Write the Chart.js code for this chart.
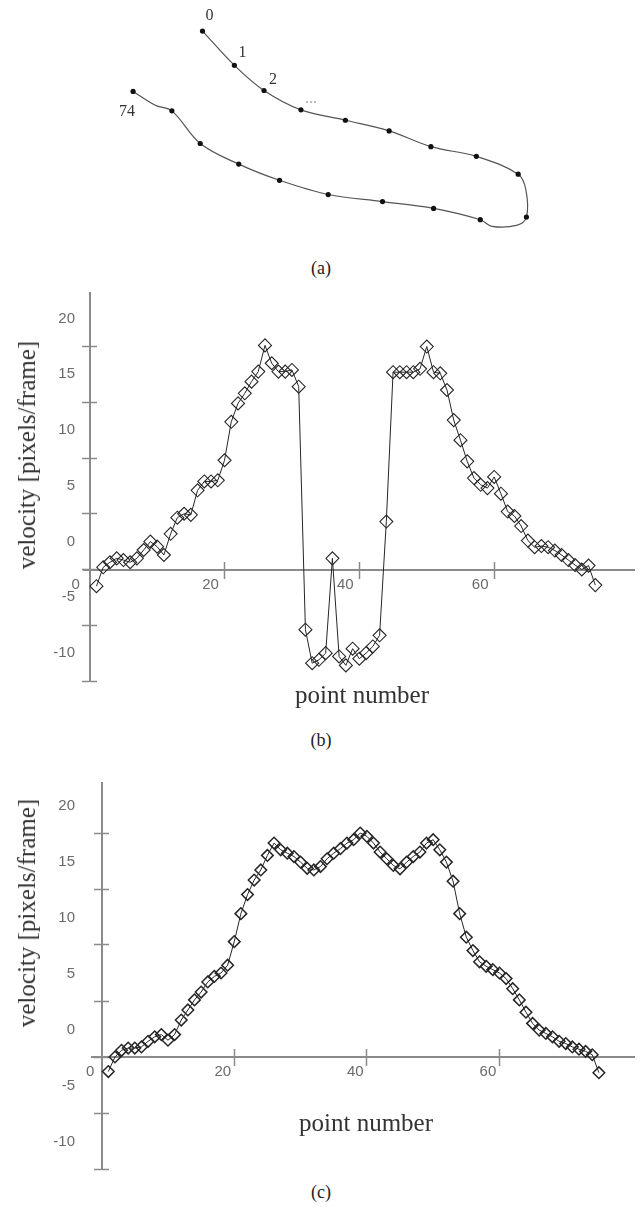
<!DOCTYPE html>
<html>
<head>
<meta charset="utf-8">
<script src="https://cdn.jsdelivr.net/npm/chart.js@4.4.1/dist/chart.umd.min.js"></script>
<style>
body{margin:0;background:#fff;}
#page{position:relative;width:642px;height:1207px;overflow:hidden;background:#fff;font-family:"Liberation Serif","Times New Roman",serif;color:#222;}
canvas{position:absolute;left:0;}
.cap{position:absolute;left:0;width:642px;text-align:center;font-size:18px;line-height:20px;}
.xtitle{position:absolute;font-size:25px;line-height:26px;white-space:nowrap;transform:translate(-50%,-50%);color:#333;}
.ytitle{position:absolute;font-size:25px;line-height:26px;white-space:nowrap;transform:translate(-50%,-50%) rotate(-90deg);color:#333;}
</style>
</head>
<body>
<div id="page">
  <canvas id="contour" width="642" height="255" style="top:0"></canvas>
  <div class="cap" style="top:258px">(a)</div>

  <canvas id="velRaw" width="642" height="410" style="top:280px"></canvas>
  <div class="ytitle" style="left:27px;top:455px">velocity [pixels/frame]</div>
  <div class="xtitle" style="left:362px;top:695px">point number</div>
  <div class="cap" style="top:730px">(b)</div>

  <canvas id="velSmooth" width="642" height="420" style="top:760px"></canvas>
  <div class="ytitle" style="left:27px;top:913px">velocity [pixels/frame]</div>
  <div class="xtitle" style="left:366px;top:1123px">point number</div>
  <div class="cap" style="top:1182px">(c)</div>
</div>

<script>
/* =========================
   DATA
========================= */

// (a) tracked contour, points 0 .. 74 (only every few points are marked)
var contourX = [201, 233.3, 263.3, 300.7, 345.7, 390, 432.3, 478.3, 520.7, 528.5, 529, 519, 494, 482.3, 435, 383.3, 328.3, 279, 237.7, 198.7, 170, 153, 130.7];
var contourY = [28, 63.3, 89.3, 109.3, 120, 131, 147.3, 157.3, 175.7, 192, 220, 228.5, 229.5, 222.7, 211, 204, 196.7, 182, 165.3, 144, 110.3, 104.5, 90.3];
var contourMarked = [1, 1, 1, 1, 1, 1, 1, 1, 1, 0, 1, 0, 0, 1, 1, 1, 1, 1, 1, 1, 1, 0, 1];
var contourLabelText = ["0", "1", "2", "...", "74"];
var contourLabelNode = [0, 1, 2, 3, 22];

// (b) velocity along the contour, raw
var velocityRaw = [
  -1.5, 0.2, 0.65, 1.0, 0.85, 0.65, 1.0, 1.75, 2.5, 2.05,
  1.3, 3.2, 4.65, 5.0, 4.9, 7.1, 7.9, 7.9, 8.0, 9.8,
  13.25, 14.9, 15.8, 16.85, 17.75, 20.1, 18.5, 17.75, 17.75, 17.9,
  16.4, -5.4, -8.4, -8.1, -7.5, 1.0, -7.8, -8.6, -7.1, -8.0,
  -7.5, -6.9, -5.9, 4.3, 17.7, 17.7, 17.7, 17.7, 18.0, 20.0,
  17.7, 17.6, 16.1, 13.4, 11.6, 9.7, 8.2, 7.6, 7.3, 8.3,
  6.8, 5.2, 4.8, 3.9, 2.6, 2.0, 2.1, 2.0, 1.7, 1.3,
  0.85, 0.4, 0.0, 0.35, -1.4
];

// (c) velocity along the contour, corrected
var velocitySmooth = [
  -1.3, 0.0, 0.6, 0.8, 0.8, 0.9, 1.4, 1.8, 2.0, 1.5,
  2.0, 3.3, 4.2, 5.1, 5.8, 6.7, 7.2, 7.5, 8.2, 10.3,
  12.8, 14.5, 15.8, 16.7, 18.0, 19.1, 18.5, 18.2, 17.9, 17.4,
  16.85, 16.7, 17.0, 17.7, 18.2, 18.6, 19.1, 19.4, 20.0, 19.7,
  19.1, 18.3, 17.7, 17.1, 16.8, 17.4, 17.9, 18.3, 19.1, 19.4,
  18.5, 17.4, 15.7, 12.8, 10.7, 9.5, 8.5, 8.1, 7.8, 7.5,
  7.0, 6.1, 5.1, 4.0, 3.0, 2.4, 2.1, 1.8, 1.4, 1.2,
  0.9, 0.7, 0.5, 0.2, -1.4
];

var xTicks = [0, 20, 40, 60];
var yTicks = [-10, -5, 0, 5, 10, 15, 20];

/* =========================
   STYLE
========================= */
var axisColor = "#8a8a8a";
var labelColor = "#6a6a6a";
var markColor = "#262626";
var tickFont = {family: "'Liberation Sans', Arial, sans-serif", size: 15};

function toPoints(values){
  var pts = [];
  for(var i=0;i<values.length;i++){
    pts.push({x: i + 1, y: values[i]});   // point number starts at 1
  }
  return pts;
}

function setTicks(list){
  return function(scale){
    scale.ticks = list.map(function(v){ return {value: v}; });
  };
}

function noPad(scale){
  scale.paddingLeft = 0; scale.paddingRight = 0;
  scale.paddingTop = 0; scale.paddingBottom = 0;
}

/* =========================
   (a) CONTOUR
========================= */
var labelPlugin = {
  id: "contourLabels",
  afterDatasetsDraw: function(chart, args, opts){
    var ctx = chart.ctx, xs = chart.scales.x, ys = chart.scales.y;
    ctx.save();
    ctx.font = "16px 'Liberation Serif', serif";
    ctx.textAlign = "center";
    ctx.textBaseline = "middle";
    for(var i=0;i<contourLabelText.length;i++){
      var n = contourLabelNode[i];
      ctx.fillStyle = opts.colors[i];
      ctx.fillText(contourLabelText[i],
        xs.getPixelForValue(contourX[n]) + opts.dx[i],
        ys.getPixelForValue(contourY[n]) + opts.dy[i]);
    }
    ctx.restore();
  }
};

new Chart(document.getElementById("contour"), {
  type: "scatter",
  data: {
    datasets: [{
      data: contourX.map(function(x, i){ return {x: x, y: contourY[i]}; }),
      showLine: true,
      tension: 0.35,
      borderColor: "#555",
      borderWidth: 1.2,
      pointRadius: function(c){ return contourMarked[c.dataIndex] ? 2.6 : 0; },
      pointBackgroundColor: "#111",
      pointBorderColor: "#111",
      pointBorderWidth: 0
    }]
  },
  options: {
    responsive: false,
    animation: false,
    layout: {padding: 0},
    plugins: {
      legend: {display: false},
      tooltip: {enabled: false},
      contourLabels: {
        dx: [7, 8, 9, 10, -6],
        dy: [-15, -13, -11, -11, 20],
        colors: ["#333", "#333", "#333", "#aaa", "#333"]
      }
    },
    scales: {
      x: {type: "linear", display: false, min: 0, max: 642},
      y: {type: "linear", display: false, min: 0, max: 255, reverse: true}
    }
  },
  plugins: [labelPlugin]
});

/* =========================
   (b) and (c) VELOCITY
========================= */
function velocityChart(id, values, g){

var tickMark = function(len, isX){
  return {
    drawOnChartArea: false,
    drawTicks: true,
    tickLength: len,
    tickWidth: 1.5,
    tickColor: function(c){
      if(isX && c.tick && c.tick.value === 0) return "rgba(0,0,0,0)";
      return axisColor;
    }
  };
};

return new Chart(document.getElementById(id), {
  type: "scatter",
  data: {
    datasets: [{
      data: toPoints(values),
      xAxisID: "x",
      yAxisID: "y",
      showLine: true,
      tension: 0,
      borderColor: markColor,
      borderWidth: 1,
      pointStyle: "rectRot",
      pointRadius: g.markSize,
      pointBorderWidth: g.markLine,
      pointBorderColor: markColor,
      pointBackgroundColor: "rgba(0,0,0,0)"
    }]
  },
  options: {
    responsive: false,
    animation: false,
    layout: {padding: {left: 0, right: 0, top: g.padTop, bottom: g.padBottom}},
    plugins: {legend: {display: false}, tooltip: {enabled: false}},
    scales: {
      x: {
        type: "linear", position: {y: 0}, min: g.xMin, max: g.xMax,
        afterBuildTicks: setTicks(xTicks), afterFit: noPad,
        grid: tickMark(8, true),
        border: {color: axisColor, width: 2},
        ticks: {padding: -2, labelOffset: g.xLabelOffset, font: tickFont, color: labelColor, maxRotation: 0}
      },
      xUp: {
        type: "linear", position: {y: 0}, min: g.xMin, max: g.xMax,
        afterBuildTicks: setTicks(xTicks), afterFit: noPad,
        grid: tickMark(-8, true),
        border: {display: false},
        ticks: {display: false}
      },
      yl: {
        type: "linear", position: "left", min: -10, max: g.yMax,
        afterBuildTicks: setTicks(yTicks),
        afterFit: function(s){ s.width = g.left; noPad(s); },
        grid: {display: false, drawTicks: false},
        border: {display: false},
        ticks: {padding: g.yLabelPad, labelOffset: g.yLabelOffset, font: tickFont, color: labelColor}
      },
      y: {
        type: "linear", position: {x: 0}, min: -10, max: g.yMax,
        afterBuildTicks: setTicks(yTicks), afterFit: noPad,
        grid: tickMark(7, false),
        border: {color: axisColor, width: 2},
        ticks: {display: false}
      },
      yIn: {
        type: "linear", position: {x: 0}, min: -10, max: g.yMax,
        afterBuildTicks: setTicks(yTicks), afterFit: noPad,
        grid: tickMark(-7, false),
        border: {display: false},
        ticks: {display: false}
      }
    }
  }
});

}

velocityChart("velRaw", velocityRaw, {
  padTop: 13, padBottom: 9, left: 83.65,
  xMin: -0.9, xMax: 80.8, yMax: 24.8,
  xLabelOffset: -14, yLabelOffset: -28, yLabelPad: 8.65,
  markSize: 6.5, markLine: 1.1
});

velocityChart("velSmooth", velocitySmooth, {
  padTop: 22.6, padBottom: 11, left: 92,
  xMin: -1.46, xMax: 80.4, yMax: 24.5,
  xLabelOffset: -11.5, yLabelOffset: -27, yLabelPad: 17,
  markSize: 5.8, markLine: 1.5
});
</script>
</body>
</html>
